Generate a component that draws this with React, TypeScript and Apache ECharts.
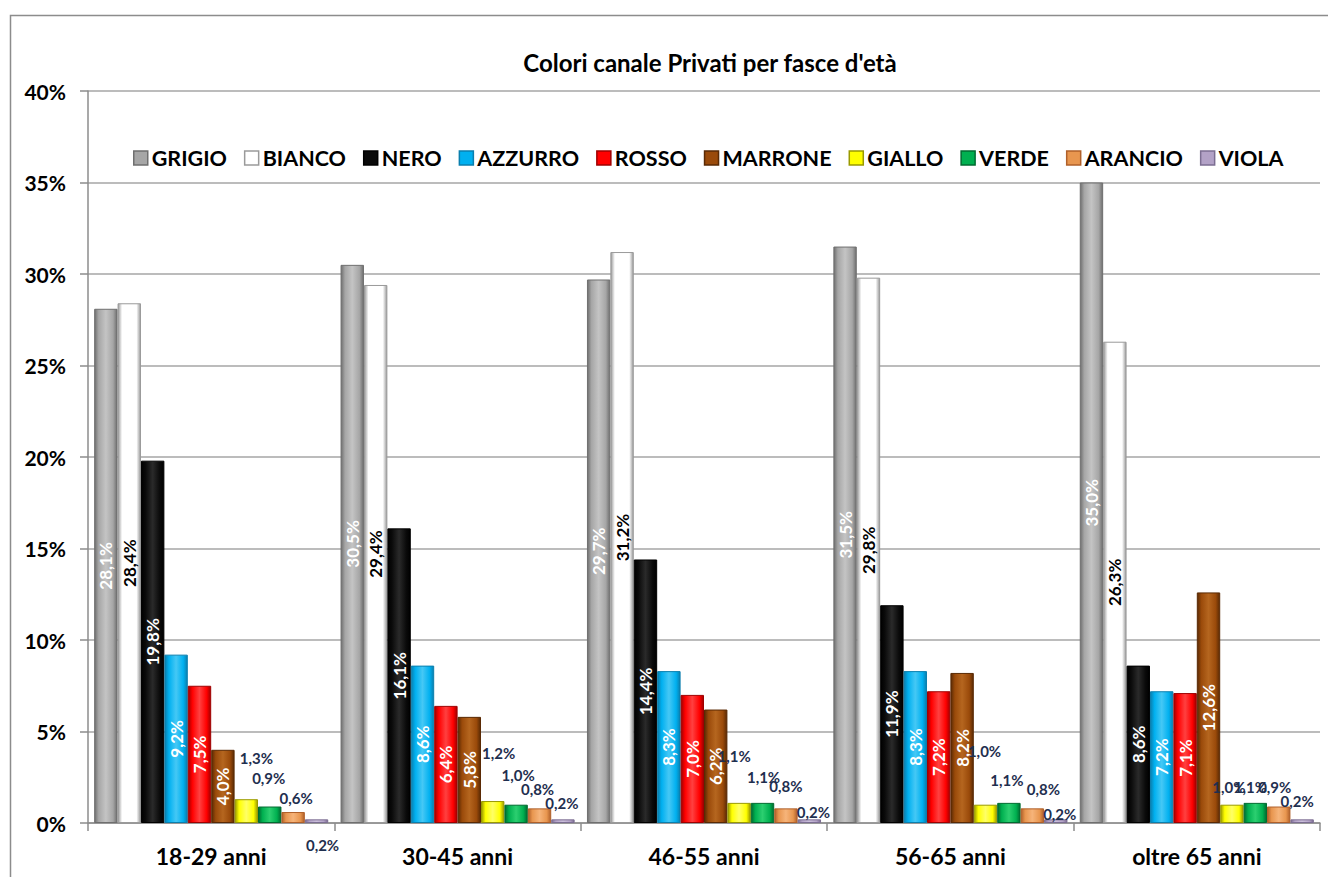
import React, { useEffect, useRef } from "react";
import * as echarts from "echarts";

const categories = ["18-29 anni", "30-45 anni", "46-55 anni", "56-65 anni", "oltre 65 anni"];
const seriesNames = ["GRIGIO", "BIANCO", "NERO", "AZZURRO", "ROSSO", "MARRONE", "GIALLO", "VERDE", "ARANCIO", "VIOLA"];

const grigio = [28.1, 30.5, 29.7, 31.5, 35.0];
const bianco = [28.4, 29.4, 31.2, 29.8, 26.3];
const nero = [19.8, 16.1, 14.4, 11.9, 8.6];
const azzurro = [9.2, 8.6, 8.3, 8.3, 7.2];
const rosso = [7.5, 6.4, 7.0, 7.2, 7.1];
const marrone = [4.0, 5.8, 6.2, 8.2, 12.6];
const giallo = [1.3, 1.2, 1.1, 1.0, 1.0];
const verde = [0.9, 1.0, 1.1, 1.1, 1.1];
const arancio = [0.6, 0.8, 0.8, 0.8, 0.9];
const viola = [0.2, 0.2, 0.2, 0.2, 0.2];

const yTicks = { min: 0, max: 40, interval: 5 };

const allValues = [grigio, bianco, nero, azzurro, rosso, marrone, giallo, verde, arancio, viola];

// styles: [edge, base, highlight, label colour]
const palette: [string, string, string, string][] = [
  ["#6f6f6f", "#a6a6a6", "#c4c4c4", "#ffffff"],
  ["#9a9a9a", "#ffffff", "#ffffff", "#000000"],
  ["#000000", "#0a0a0a", "#2a2a2a", "#ffffff"],
  ["#0a7fae", "#00b0f0", "#45c8f5", "#ffffff"],
  ["#a00000", "#ff0000", "#ff4040", "#ffffff"],
  ["#5a2a04", "#9a4a0a", "#b5661f", "#ffffff"],
  ["#9a9a00", "#ffff00", "#ffff66", "#1F2F4F"],
  ["#006b30", "#00b050", "#2ccf70", "#1F2F4F"],
  ["#b0602a", "#e8964f", "#f6b47a", "#1F2F4F"],
  ["#7c6e92", "#b3a2c7", "#cbbfdb", "#1F2F4F"],
];

// manual label nudges (label centre relative to bar top centre) for the small series
const labelNudges: Record<string, [number, number][]> = {
  GIALLO: [[10, -41], [6, -48], [-5, -47], [-1, -54], [-3, -18]],
  VERDE: [[-1, -29], [2, -30], [1, -26], [-2, -23], [-5, -16]],
  ARANCIO: [[3, -14], [-2, -19], [0, -22], [11, -19], [-4, -20]],
  VIOLA: [[6, 26], [-1, -16], [4, -7], [4, -5], [-5, -18]],
};

const FONT = "Lato";
const fmt = (v: number) => v.toFixed(1).replace(".", ",") + "%";

export default function App() {
  const ref = useRef<HTMLDivElement>(null);
  useEffect(() => {
    if (!ref.current) return;
    const chart = echarts.init(ref.current, undefined, { renderer: "svg" });

    const series = seriesNames.map((name, si) => {
      const [edge, base, hi, lc] = palette[si];
      const grad = new echarts.graphic.LinearGradient(0, 0, 1, 0, [
        { offset: 0, color: edge },
        { offset: 0.18, color: base },
        { offset: 0.5, color: hi },
        { offset: 0.82, color: base },
        { offset: 1, color: edge },
      ]);
      const nudges = labelNudges[name];
      const data = allValues[si].map((v, ci) => {
        if (!nudges) return v;
        const [dx, dy] = nudges[ci];
        return {
          value: v,
          label: {
            show: true,
            position: "top",
            distance: 0,
            verticalAlign: "middle",
            align: "center",
            offset: [dx, dy],
            color: lc,
            fontSize: 15,
            fontWeight: "bold",
            fontFamily: FONT,
            formatter: () => fmt(v),
          },
        };
      });
      return {
        name,
        type: "bar",
        data,
        barGap: "0%",
        barCategoryGap: "5%",
        itemStyle: { color: grad, borderColor: edge, borderWidth: 1 },
        label: nudges
          ? { show: true }
          : {
              show: true,
              position: "inside",
              rotate: 90,
              color: lc,
              fontSize: 17,
              fontWeight: "bold",
              fontFamily: FONT,
              formatter: (p: any) => fmt(p.value),
            },
      };
    });

    chart.setOption({
      animation: false,
      backgroundColor: "#ffffff",
      color: palette.map((p) => p[1]),
      title: {
        text: "Colori canale Privati per fasce d'età",
        left: 705,
        top: 45,
        textAlign: "center",
        textStyle: { fontFamily: FONT, fontSize: 24, fontWeight: "bold", color: "#000" },
      },
      legend: {
        data: seriesNames.map((n, i) => ({
          name: n,
          itemStyle: { color: palette[i][1], borderColor: palette[i][0], borderWidth: 1.5 },
        })),
        left: 128,
        top: 142,
        icon: "rect",
        itemWidth: 14,
        itemHeight: 14,
        itemGap: 17,
        textStyle: { fontFamily: FONT, fontSize: 21.5, fontWeight: "bold", color: "#000", padding: [0, 0, 0, -1] },
      },
      graphic: [
        {
          type: "rect",
          shape: { x: 10.5, y: 15.5, width: 1400, height: 1000 },
          style: { fill: "none", stroke: "#8c8c8c", lineWidth: 1.5 },
          silent: true,
          z: -10,
        },
      ],
      grid: { left: 88, right: 8, top: 91, bottom: 54 },
      xAxis: {
        type: "category",
        data: categories,
        axisLine: { lineStyle: { color: "#8c8c8c", width: 1.5 } },
        axisTick: { show: true, length: 8, lineStyle: { color: "#8c8c8c", width: 1.5 } },
        axisLabel: { fontFamily: FONT, fontSize: 23, fontWeight: "bold", color: "#000", margin: 21 },
      },
      yAxis: {
        type: "value",
        min: yTicks.min,
        max: yTicks.max,
        interval: yTicks.interval,
        axisLine: { show: true, lineStyle: { color: "#8c8c8c", width: 1.5 } },
        axisTick: { show: true, length: 8, lineStyle: { color: "#8c8c8c", width: 1.5 } },
        axisLabel: { fontFamily: FONT, fontSize: 21, fontWeight: "bold", color: "#000", margin: 22, formatter: "{value}%" },
        splitLine: { lineStyle: { color: "#a6a6a6", width: 1.5 } },
      },
      series,
    });
    return () => chart.dispose();
  }, []);
  return <div ref={ref} style={{ position: "fixed", left: 0, top: 0, width: 1328, height: 877 }} />;
}
